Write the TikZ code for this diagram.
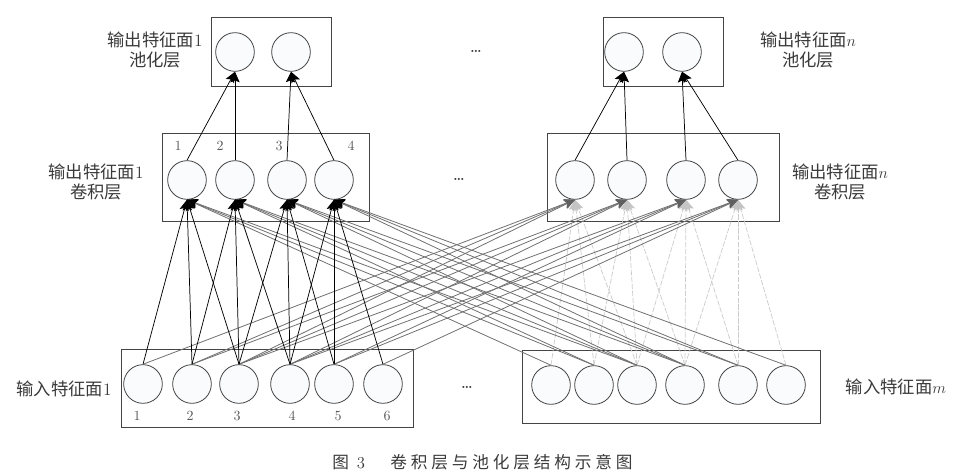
\documentclass[tikz,border=0pt]{standalone}
\usepackage{fontspec}
\newfontfamily\cjk{Noto Sans CJK SC}
\newfontfamily\capcjk[LetterSpace=23]{Noto Sans CJK SC}
\usetikzlibrary{arrows.meta}
\definecolor{circfill}{HTML}{F9FBFD}
\definecolor{edgegray}{HTML}{444444}
\definecolor{linegray}{HTML}{707070}
\definecolor{lightline}{HTML}{CCCCCC}
\definecolor{headgray}{HTML}{606060}
\definecolor{headlight}{HTML}{C4C4C4}
\definecolor{txt}{HTML}{3A3A3A}
\begin{document}
\begin{tikzpicture}[x=0.75pt,y=-0.75pt,
  neuron/.style={circle, draw=edgegray, fill=circfill, line width=0.6pt, minimum size=29pt, inner sep=0pt},
  layerbox/.style={draw=edgegray, line width=0.6pt},
  lbl/.style={font=\fontsize{13}{15}\selectfont\cjk, text=txt, align=center, inner sep=0pt},
  num/.style={font=\fontsize{10.5}{12}\selectfont, text=txt!85, inner sep=0pt},
  dots/.style={font=\fontsize{10}{12}\selectfont\bfseries, text=txt, inner sep=0pt},
  darkarrow/.style={draw=black, line width=0.55pt, -{Stealth[length=8pt,width=7pt,inset=1.5pt]}},
  grayarrow/.style={draw=linegray, line width=0.6pt, -{Stealth[length=8pt,width=7pt,inset=1.5pt,color=headgray]}},
  grayblack/.style={draw=linegray, line width=0.6pt, -{Stealth[length=8pt,width=7pt,inset=1.5pt,color=black]}},
  lightarrow/.style={draw=lightline, line width=0.55pt, dash pattern=on 4pt off 1.2pt, -{Stealth[length=8pt,width=7pt,inset=1.5pt,color=headlight]}}
]
\useasboundingbox (0,0) rectangle (969,474);

% layer boxes
\draw[layerbox] (211,17) rectangle (331,86);
\draw[layerbox] (603,17) rectangle (723,86);
\draw[layerbox] (162,133) rectangle (369,221);
\draw[layerbox] (547,133) rectangle (779,221);
\draw[layerbox] (121,349) rectangle (413,427);
\draw[layerbox] (522,350) rectangle (820,423);

% neurons
\foreach \x [count=\i] in {143,192,239,290,334,383} \node[neuron] (a\i) at (\x,384) {};
\foreach \x [count=\i] in {551,594,637,685,738,786} \node[neuron] (b\i) at (\x,385) {};
\foreach \x [count=\i] in {187,235,287,334} \node[neuron] (c\i) at (\x,180) {};
\foreach \x [count=\i] in {575,627,686,738} \node[neuron] (d\i) at (\x,180) {};
\node[neuron] (p1) at (235,52) {};
\node[neuron] (p2) at (291,52) {};
\node[neuron] (q1) at (624,52) {};
\node[neuron] (q2) at (682,52) {};

% connections input -> convolution
\foreach \j in {1,...,4} \foreach \k in {0,1,2} {
  \pgfmathtruncatemacro\s{\j+\k}
  \draw[lightarrow] (b\s.north) -- (d\j.south);
}
\foreach \j in {1,...,4} \foreach \k in {0,1,2} {
  \pgfmathtruncatemacro\s{\j+\k}
  \draw[grayarrow] (a\s.north) -- (d\j.south);
  \draw[grayblack] (b\s.north) -- (c\j.south);
}
\foreach \j in {1,...,4} \foreach \k in {0,1,2} {
  \pgfmathtruncatemacro\s{\j+\k}
  \draw[darkarrow] (a\s.north) -- (c\j.south);
}

% convolution -> pooling
\draw[darkarrow] (c1.north) -- (p1.south);
\draw[darkarrow] (c2.north) -- (p1.south);
\draw[darkarrow] (c3.north) -- (p2.south);
\draw[darkarrow] (c4.north) -- (p2.south);
\draw[darkarrow] (d1.north) -- (q1.south);
\draw[darkarrow] (d2.north) -- (q1.south);
\draw[darkarrow] (d3.north) -- (q2.south);
\draw[darkarrow] (d4.north) -- (q2.south);

% labels
\node[lbl] (lp1) at (155,50) {输出特征面{\rmfamily 1}\\池化层};
\node[lbl] (lc1) at (96,182) {输出特征面{\rmfamily 1}\\卷积层};
\node[lbl] (lpn) at (808,50) {输出特征面$n$\\池化层};
\node[lbl] (lcn) at (840,182) {输出特征面$n$\\卷积层};
\node[lbl] (la) at (64,389) {输入特征面{\rmfamily 1}};
\node[lbl] (lb) at (896,387) {输入特征面$m$};

% numbers
\foreach \x [count=\i] in {178,220,279,351} \node[num] (nc\i) at (\x,146) {\i};
\foreach \x [count=\i] in {137,190,237,292,338,387} \node[num] (na\i) at (\x,416) {\i};

% ellipses
\node[dots] (e1) at (476,51) {\ldots};
\node[dots] (e2) at (459,179) {\ldots};
\node[dots] (e3) at (467,387) {\ldots};

% caption
\node[anchor=west, font=\fontsize{12.5}{14}\selectfont, text=txt, inner sep=0pt] (cap) at (332,462)
  {{\cjk 图}\hspace{6pt}3\hspace{19pt}{\capcjk 卷积层与池化层结构示意图}};
\end{tikzpicture}
\end{document}
